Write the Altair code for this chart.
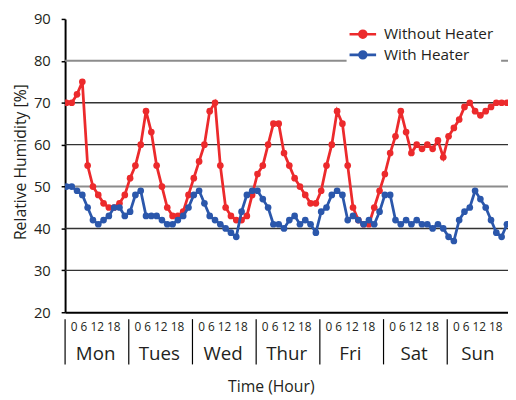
import altair as alt
import pandas as pd

days = ["Mon", "Tues", "Wed", "Thur", "Fri", "Sat", "Sun"]
hour_text = "0 6 12 18"
samples_per_day = 12  # one reading every 2 hours
series_names = ["Without Heater", "With Heater"]
series_colors = ["#EC2A2C", "#2B57AB"]

without_heater = [70, 70, 72, 75, 55, 50, 48, 46, 45, 45, 46, 48,
                  52, 55, 60, 68, 63, 55, 50, 45, 43, 43, 44, 48,
                  52, 56, 60, 68, 70, 55, 45, 43, 42, 42, 43, 48,
                  53, 55, 60, 65, 65, 58, 55, 52, 50, 48, 46, 46,
                  49, 55, 60, 68, 65, 55, 45, 42, 41, 41, 45, 49,
                  53, 58, 62, 68, 63, 58, 60, 59, 60, 59, 61, 57,
                  62, 64, 66, 69, 70, 68, 67, 68, 69, 70, 70, 70]
with_heater = [50, 50, 49, 48, 45, 42, 41, 42, 43, 45, 45, 43,
               44, 48, 49, 43, 43, 43, 42, 41, 41, 42, 43, 45,
               48, 49, 46, 43, 42, 41, 40, 39, 38, 44, 48, 49,
               49, 47, 45, 41, 41, 40, 42, 43, 41, 42, 41, 39,
               44, 45, 48, 49, 48, 42, 43, 42, 41, 42, 41, 44,
               48, 48, 42, 41, 42, 41, 42, 41, 41, 40, 41, 40,
               38, 37, 42, 44, 45, 49, 47, 45, 42, 39, 38, 41]

y_ticks = [20, 30, 40, 50, 60, 70, 80, 90]
grid_values = [30, 40, 50, 60, 70, 80]
grid_colors = ["#333333", "#333333", "#8c8c8c", "#333333", "#333333", "#8c8c8c"]
grid_widths = [1.4, 1.4, 2.0, 1.4, 1.4, 2.0]

FONT = "Open Sans"
TXT = "#231f20"

rows = []
for name, vals in zip(series_names, [without_heater, with_heater]):
    for i, v in enumerate(vals):
        rows.append({"t": i, "rh": v, "series": name})
df = pd.DataFrame(rows)

grid_df = pd.DataFrame({"v": grid_values, "c": grid_colors, "w": grid_widths})
day_df = pd.DataFrame({
    "day": days,
    "start": [k * samples_per_day - 0.25 for k in range(len(days))],
    "mid": [k * samples_per_day + (samples_per_day - 1) / 2 for k in range(len(days))],
    "hours": [hour_text] * len(days),
})

x_scale = alt.Scale(domain=[-0.25, 83.2], nice=False, zero=False)
y_scale = alt.Scale(domain=[20, 90], nice=False, zero=False)
color_scale = alt.Scale(domain=series_names, range=series_colors)

legend = alt.Legend(
    title=None, orient="none", legendX=286, legendY=-1, direction="vertical",
    symbolType="M-2,0L2,0M-0.52,0A0.52,0.52,0,1,1,0.52,0A0.52,0.52,0,1,1,-0.52,0Z",
    symbolSize=182, symbolStrokeWidth=2.6, labelFontSize=15.5, labelFont=FONT,
    labelColor=TXT, labelOffset=13, rowPadding=2, fillColor="white", padding=8,
)

x_axis = alt.Axis(
    title="Time (Hour)", labels=False, ticks=False, grid=False,
    domainColor="black", domainWidth=2, titleFont=FONT, titleFontSize=16,
    titleFontWeight="normal", titleColor=TXT, titleX=209, titleY=76,
    titleBaseline="middle", titleAlign="center",
)
y_axis = alt.Axis(
    title="Relative Humidity [%]", values=y_ticks, tickSize=4, tickColor="black",
    tickWidth=1.5, labelPadding=11, labelFontSize=15, labelFont=FONT, labelColor=TXT,
    grid=False, domainColor="black", domainWidth=2, titleFont=FONT,
    titleFontSize=16, titleFontWeight="normal", titleColor=TXT, titleX=-37, titleY=145,
)

grid = alt.Chart(grid_df).mark_rule().encode(
    y=alt.Y("v:Q", scale=y_scale, axis=y_axis),
    color=alt.Color("c:N", scale=None),
    strokeWidth=alt.StrokeWidth("w:Q", scale=None),
)

base = alt.Chart(df)


def series_layers(name):
    sub = base.transform_filter(alt.datum.series == name)
    enc = dict(
        x=alt.X("t:Q", scale=x_scale, axis=x_axis),
        y=alt.Y("rh:Q", scale=y_scale, axis=y_axis),
    )
    line = sub.mark_line(strokeWidth=2.8, clip=True).encode(
        color=alt.Color("series:N", scale=color_scale, legend=legend),
        **enc,
    )
    pts = sub.mark_point(filled=True, size=46, opacity=1, strokeWidth=0, clip=True).encode(
        color=alt.Color("series:N", scale=color_scale, legend=legend),
        stroke=alt.Stroke("series:N", scale=color_scale, legend=legend),
        **enc,
    )
    return [line, pts]


separators = alt.Chart(day_df).mark_rule(color="black", strokeWidth=1.2).encode(
    x=alt.X("start:Q", scale=x_scale, axis=x_axis),
    y=alt.value(305), y2=alt.value(351),
)
hour_labels = alt.Chart(day_df).mark_text(
    font=FONT, fontSize=12, color=TXT, baseline="middle", align="center"
).encode(
    x=alt.X("mid:Q", scale=x_scale, axis=x_axis),
    y=alt.value(313), text="hours:N",
)
day_labels = alt.Chart(day_df).mark_text(
    font=FONT, fontSize=19, color=TXT, baseline="middle", align="center"
).encode(
    x=alt.X("mid:Q", scale=x_scale, axis=x_axis),
    y=alt.value(341), text="day:N",
)

layers = [grid] + series_layers(series_names[0]) + series_layers(series_names[1]) \
    + [separators, hour_labels, day_labels]

chart = alt.layer(*layers).properties(
    width=450, height=298,
    autosize=alt.AutoSizeParams(type="none"),
    padding={"left": 58, "top": 8, "right": 0, "bottom": 84},
).configure_view(stroke=None)

chart.save("out.html", embed_options={"renderer": "svg", "actions": False})
